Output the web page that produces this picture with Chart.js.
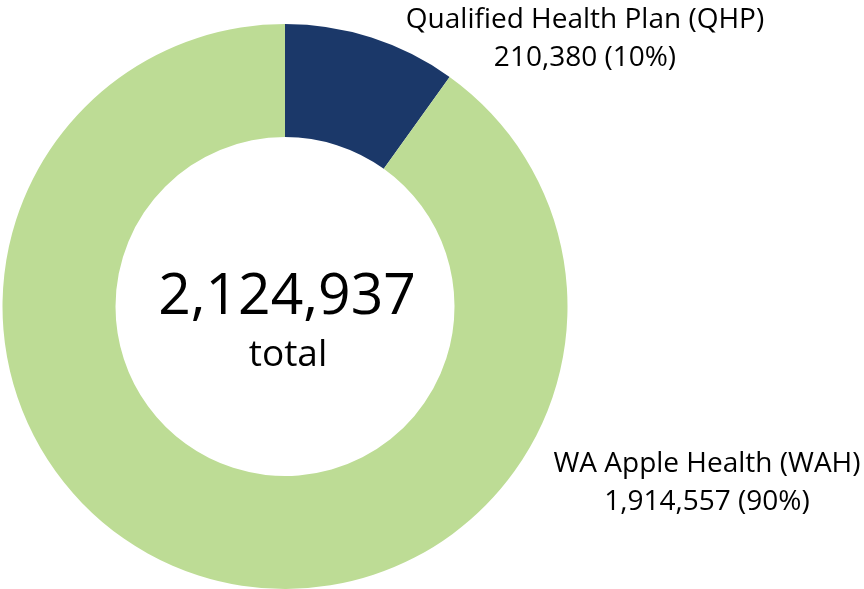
<!DOCTYPE html>
<html>
<head>
<meta charset="utf-8">
<script src="https://cdn.jsdelivr.net/npm/chart.js@4"></script>
<style>
  html, body { margin: 0; padding: 0; background: #fff; }
  #wrap { width: 864px; height: 589px; }
</style>
</head>
<body>
<div id="wrap"><canvas id="enrollChart"></canvas></div>
<script>
const categories = ['Qualified Health Plan (QHP)', 'WA Apple Health (WAH)'];
const counts = [210380, 1914557];
const percents = ['10%', '90%'];
const colors = ['#1B3869', '#BDDC95'];
const totalCount = 2124937;

const fmt = n => n.toLocaleString('en-US');
const font = '"Open Sans", sans-serif';

// labels and center total drawn on top of the doughnut
const textPlugin = {
    id: 'textPlugin',
    afterDraw(chart) {
        const ctx = chart.ctx;
        const arc = chart.getDatasetMeta(0).data[0];
        ctx.save();
        ctx.fillStyle = '#000';
        ctx.textAlign = 'center';
        ctx.textBaseline = 'middle';

        ctx.font = '57px ' + font;
        ctx.fillText(fmt(totalCount), arc.x + 2, arc.y - 9);
        ctx.font = '37px ' + font;
        ctx.fillText('total', arc.x + 3, arc.y + 49);

        ctx.font = '28px ' + font;
        ctx.fillText(categories[0], 585, 20);
        ctx.fillText(fmt(counts[0]) + ' (' + percents[0] + ')', 585, 58);
        ctx.fillText(categories[1], 707, 464);
        ctx.fillText(fmt(counts[1]) + ' (' + percents[1] + ')', 707, 502);
        ctx.restore();
    }
};

new Chart(document.getElementById('enrollChart').getContext('2d'), {
    type: 'doughnut',
    data: {
        labels: categories,
        datasets: [{
            data: counts,
            backgroundColor: colors,
            borderWidth: 0
        }]
    },
    options: {
        responsive: true,
        maintainAspectRatio: false,
        animation: false,
        cutout: '60%',
        layout: { padding: { left: 2, top: 24, right: 296, bottom: 0 } },
        plugins: {
            legend: { display: false },
            tooltip: { enabled: false }
        }
    },
    plugins: [textPlugin]
});
</script>
</body>
</html>
